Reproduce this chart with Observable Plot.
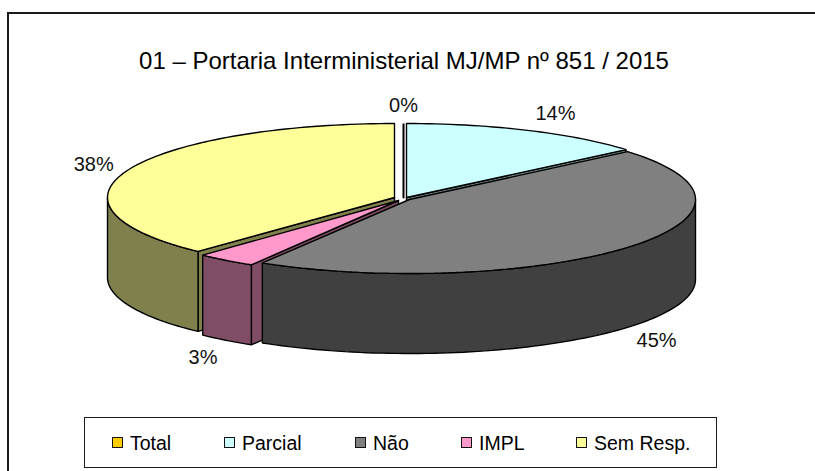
<!DOCTYPE html>
<html lang="pt">
<head>
<meta charset="utf-8">
<script src="https://cdn.jsdelivr.net/npm/d3@7"></script>
<script src="https://cdn.jsdelivr.net/npm/@observablehq/plot@0.6"></script>
<style>
  html, body { margin: 0; padding: 0; background: #fff; overflow: hidden; width: 815px; height: 471px; }
  body { font-family: "Liberation Sans", Arial, sans-serif; color: #000; position: relative; }
  #frame { position: absolute; left: 7px; top: 12px; width: 830px; height: 480px; border-left: 2px solid #1a1a1a; border-top: 2px solid #1a1a1a; }
  #title { position: absolute; left: 0; top: 47px; width: 808px; text-align: center; font-size: 24px; line-height: 28px; white-space: nowrap; }
  #chart { position: absolute; left: 0; top: 88px; }
  #chart svg { display: block; background: transparent; }
  #legend { position: absolute; left: 84px; top: 417px; width: 631px; height: 49px; border: 1.5px solid #1a1a1a; display: flex; align-items: center; box-sizing: content-box; background: #fff; }
  .item { display: flex; align-items: center; font-size: 19.5px; line-height: 24px; }
  .swatch { width: 9px; height: 9px; border: 1.5px solid #111; margin-right: 7px; flex: none; }
</style>
</head>
<body>
<div id="frame"></div>
<div id="title"></div>
<div id="chart"></div>
<div id="legend"></div>
<script>
// ---- Data ----
const titleText = "01 – Portaria Interministerial MJ/MP nº 851 / 2015";
const categories = ["Total", "Parcial", "Não", "IMPL", "Sem Resp."];
const values = [0, 13.8, 44.8, 3.4, 38.0];           // estimated shares, printed rounded
const topColors = ["#FFCC00", "#CCFFFF", "#808080", "#FF99CC", "#FFFF99"];
const sideColors = ["#806600", "#668080", "#404040", "#804D66", "#80804D"];

// ---- Layout of the tilted pie (in page pixels) ----
const radiusX = [288, 288, 286, 286, 287];
const radiusY = [74, 74, 74, 75, 74];
const centerX = [403, 406, 409, 398, 394];
const centerY = [197, 197, 199, 200, 197];
const depth = 80;
const paintOrder = [1, 0, 4, 3, 2];                  // back to front
const labelNudge = [[0, -18], [28, -17], [29, 13], [-23, 17], [-34, -6]];
const plotTop = 88, plotHeight = 322, pageWidth = 815;
const legendOffsets = [27, 112, 131, 106, 115];

const rad = d => d * Math.PI / 180;
let running = 0;
const slices = categories.map((name, i) => {
  const a0 = running / 100 * 360; running += values[i];
  const a1 = running / 100 * 360;
  const at = (t, drop = 0) => ({
    x: centerX[i] + radiusX[i] * Math.sin(rad(t)),
    y: centerY[i] - radiusY[i] * Math.cos(rad(t)) + drop
  });
  const arc = (from, to, drop = 0) => {
    const n = Math.max(1, Math.ceil(Math.abs(to - from) / 1.5));
    return d3.range(n + 1).map(k => at(from + (to - from) * k / n, drop));
  };
  const apex = (drop = 0) => ({x: centerX[i], y: centerY[i] + drop});
  const shapes = [];
  // cut faces that turn toward the viewer
  const sin0 = Math.sin(rad(a0)), sin1 = Math.sin(rad(a1));
  if (a1 > a0 && sin0 < -1e-6) shapes.push({pts: [apex(), at(a0), at(a0, depth), apex(depth), apex()], fill: sideColors[i]});
  if (a1 > a0 && sin1 > 1e-6) shapes.push({pts: [apex(), at(a1), at(a1, depth), apex(depth), apex()], fill: sideColors[i]});
  // outer wall on the front half
  const w0 = Math.max(a0, 90), w1 = Math.min(a1, 270);
  if (w1 > w0) {
    const topEdge = arc(w0, w1), lowEdge = arc(w1, w0, depth);
    shapes.push({pts: [...topEdge, ...lowEdge, topEdge[0]], fill: sideColors[i]});
  }
  // top face
  shapes.push({pts: [apex(), ...arc(a0, a1), apex()], fill: topColors[i]});
  // label
  const mid = (a0 + a1) / 2;
  const rim = at(mid, Math.cos(rad(mid)) < 0 ? depth : 0);
  return {name, shapes, label: {
    x: rim.x + labelNudge[i][0],
    y: rim.y + labelNudge[i][1],
    text: Math.round(values[i]) + "%"
  }};
});

const marks = [];
for (const i of paintOrder) {
  for (const s of slices[i].shapes) {
    marks.push(Plot.line(s.pts, {x: "x", y: "y", fill: s.fill, stroke: "#000", strokeWidth: i === 0 ? 2 : 1.4, curve: "linear", strokeLinejoin: "miter"}));
  }
}
marks.push(Plot.text(slices.map(s => s.label), {x: "x", y: "y", text: "text", fontSize: 20, fill: "#111", fontFamily: "Liberation Sans"}));

const chart = Plot.plot({
  width: pageWidth,
  height: plotHeight,
  margin: 0,
  style: {background: "transparent", overflow: "visible"},
  x: {type: "linear", domain: [0, pageWidth], range: [0, pageWidth], axis: null},
  y: {type: "linear", domain: [plotTop, plotTop + plotHeight], range: [0, plotHeight], axis: null},
  marks
});
document.getElementById("chart").appendChild(chart);
document.getElementById("title").textContent = titleText;

const legend = document.getElementById("legend");
categories.forEach((name, i) => {
  const item = document.createElement("div");
  item.className = "item";
  item.style.position = "absolute";
  item.style.left = d3.sum(legendOffsets.slice(0, i + 1)) + "px";
  const sw = document.createElement("span");
  sw.className = "swatch";
  sw.style.background = topColors[i];
  const label = document.createElement("span");
  label.textContent = name;
  item.append(sw, label);
  legend.appendChild(item);
});
</script>
</body>
</html>
